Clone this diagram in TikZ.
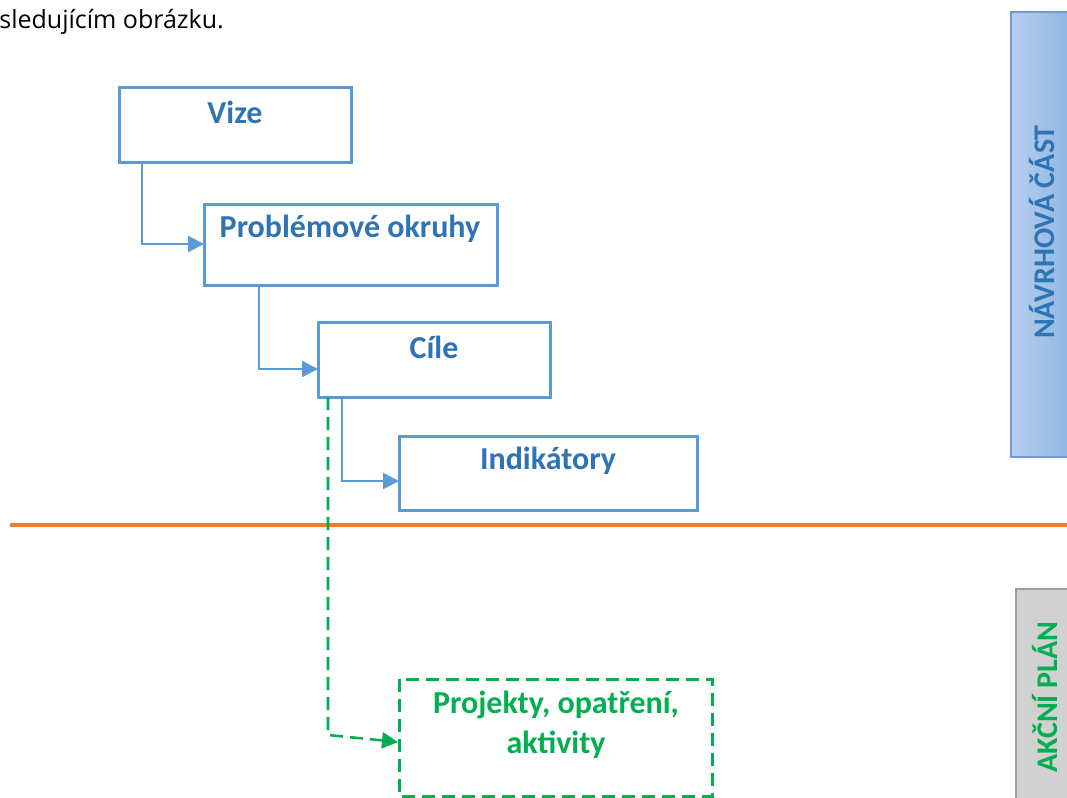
\documentclass[tikz,border=0pt]{standalone}
\usepackage{fontspec}
\setmainfont{Carlito}
\newfontfamily\bodyfont{Open Sans}
\usetikzlibrary{arrows.meta}
\definecolor{boxblue}{HTML}{5B9BD5}
\definecolor{txtblue}{HTML}{2E74B5}
\definecolor{grn}{HTML}{00B050}
\definecolor{orng}{HTML}{ED7D31}
\definecolor{panelL}{HTML}{B8D0EC}
\definecolor{panelR}{HTML}{8EB4E3}
\definecolor{panelB}{HTML}{6E9BD3}
\tikzset{
  bx/.style={draw=boxblue, line width=1.5pt, fill=white},
  bxtxt/.style={text=txtblue, font=\fontsize{16}{18}\selectfont\bfseries, anchor=center},
  conn/.style={draw=boxblue, line width=1.2pt, -{Triangle[length=8pt,width=8pt]}},
  gdash/.style={draw=grn, line width=1.5pt, dash pattern=on 6.5pt off 3.5pt},
  gconn/.style={gdash, line width=1.3pt, -{Triangle[length=8pt,width=8pt]}},
}
\begin{document}
\begin{tikzpicture}[x=0.5pt,y=-0.5pt]
\useasboundingbox (0,0) rectangle (1067,798);
% top text
\node[anchor=base west, inner sep=0, font=\bodyfont\fontsize{12.5}{14}\selectfont] (intro) at (-1,28) {sledujícím obrázku.};
% side panels
\shade[left color=panelL, right color=panelR, draw=panelB, line width=0.8pt] (1011,12) rectangle (1072,457);
\node[rotate=90, text=txtblue, font=\fontsize{15}{18}\selectfont\bfseries] (navrh) at (1042,232) {NÁVRHOVÁ ČÁST};
\filldraw[fill=black!18, draw=black!38, line width=0.8pt] (1016,589) rectangle (1072,803);
\node[rotate=90, text=grn, font=\fontsize{15}{18}\selectfont\bfseries] (akcni) at (1045,697) {AKČNÍ PLÁN};
% orange line
\draw[orng, line width=1.7pt] (10,525) -- (1067,525);
% boxes
\draw[bx] (119,87) rectangle (351,162);
\node[bxtxt] (vize) at (235,112) {Vize};
\coordinate (vizeBL) at (142,162);
\draw[bx] (204,204) rectangle (497,285);
\node[bxtxt] (prob) at (350,229) {Problémové okruhy};
\coordinate (probL) at (204,244);
\coordinate (probBL) at (259,285);
\draw[bx] (318,322) rectangle (550,397);
\node[bxtxt] (cile) at (434,347) {Cíle};
\coordinate (cileL) at (318,369);
\coordinate (cileBL) at (342,397);
\coordinate (cileBG) at (328,397);
\draw[bx] (399,436) rectangle (697,510);
\node[bxtxt] (ind) at (548,461) {Indikátory};
\coordinate (indL) at (399,481);
\draw[gdash] (399,679) rectangle (712,796);
\node[text=grn, font=\fontsize{16}{20}\selectfont\bfseries, align=center] (proj) at (556,725) {Projekty, opatření,\\aktivity};
\coordinate (projL) at (398,742);
% connectors
\draw[conn] (vizeBL) |- (probL);
\draw[conn] (probBL) |- (cileL);
\draw[conn] (cileBL) |- (indL);
\draw[gconn] (cileBG) -- (328,735) -- (projL);
\end{tikzpicture}
\end{document}
